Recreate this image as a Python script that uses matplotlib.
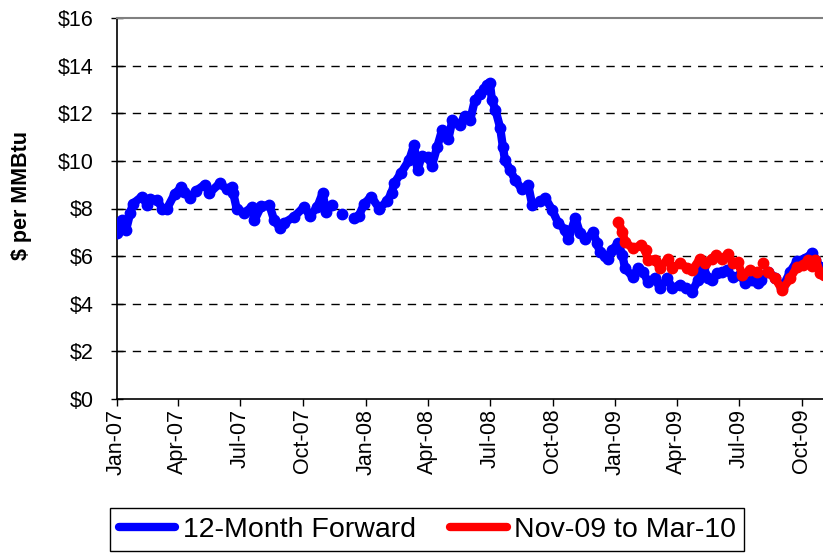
import numpy as np
import pandas as pd
import matplotlib
matplotlib.use("Agg")
import matplotlib.pyplot as plt
import matplotlib.dates as mdates

plt.rcParams["font.family"] = ["Liberation Sans", "DejaVu Sans"]

nan = np.nan

# 12-month forward strip
fwd_dates = [
    "2007-01-01", "2007-01-09", "2007-01-15", "2007-01-21", "2007-01-25", "2007-02-07",
    "2007-02-15", "2007-02-19", "2007-03-02", "2007-03-09", "2007-03-16", "2007-03-27",
    "2007-04-06", "2007-04-10", "2007-04-18", "2007-04-28", "2007-05-10", "2007-05-17",
    "2007-06-01", "2007-06-12", "2007-06-19", "2007-06-21", "2007-06-26", "2007-07-07",
    "2007-07-18", "2007-07-22", "2007-08-01", "2007-08-13", "2007-08-20", "2007-08-28",
    "2007-09-04", "2007-09-18", "2007-10-03", "2007-10-11", "2007-10-22", "2007-10-30",
    "2007-11-04", "2007-11-13", "2007-11-20", "2007-11-28", "2007-12-06", "2007-12-15",
    "2007-12-22", "2007-12-30",
    "2008-01-09", "2008-01-21", "2008-02-01", "2008-02-08", "2008-02-12", "2008-02-22",
    "2008-03-05", "2008-03-12", "2008-03-17", "2008-03-23", "2008-04-01", "2008-04-07",
    "2008-04-15", "2008-04-22", "2008-05-01", "2008-05-07", "2008-05-18", "2008-05-25",
    "2008-06-02", "2008-06-09", "2008-06-16", "2008-06-23", "2008-06-27", "2008-07-01",
    "2008-07-04", "2008-07-09", "2008-07-16", "2008-07-20", "2008-07-23", "2008-07-31",
    "2008-08-07", "2008-08-17", "2008-08-26", "2008-09-01", "2008-09-13", "2008-09-20",
    "2008-09-30", "2008-10-09", "2008-10-19", "2008-10-24", "2008-11-03", "2008-11-10",
    "2008-11-18", "2008-11-29", "2008-12-05", "2008-12-09", "2008-12-17", "2008-12-21",
    "2008-12-27",
    "2009-01-05", "2009-01-11", "2009-01-15", "2009-01-26", "2009-02-03", "2009-02-11",
    "2009-02-17", "2009-02-28", "2009-03-07", "2009-03-18", "2009-03-25", "2009-04-06",
    "2009-04-15", "2009-04-23", "2009-05-02", "2009-05-09", "2009-05-17", "2009-05-23",
    "2009-05-30", "2009-06-06", "2009-06-14", "2009-06-22", "2009-07-03", "2009-07-10",
    "2009-07-20", "2009-07-29", "2009-08-02", "2009-08-07", "2009-08-12", "2009-08-23",
    "2009-09-02", "2009-09-14", "2009-09-24", "2009-10-06", "2009-10-16", "2009-10-21",
    "2009-10-28", "2009-11-02",
]
fwd_values = [
    6.97, 7.5, 7.1, 7.8, 8.2, 8.5,
    8.15, 8.4, 8.35, 8.0, 8.0, 8.6,
    8.9, 8.7, 8.45, 8.75, 9.0, 8.65,
    9.05, 8.8, 8.9, 8.65, 8.0, 7.8,
    8.07, 7.5, 8.1, 8.15, 7.5, 7.2,
    7.4, 7.65, 8.07, 7.7, 8.05, 8.65,
    7.85, 8.15, nan, 7.77, nan, 7.6,
    7.7, 8.2,
    8.5, 8.0, 8.3, 8.65, 9.07, 9.5,
    10.05, 10.67, 9.6, 10.2, 10.15, 9.8,
    10.6, 11.3, 10.9, 11.7, 11.5, 11.9,
    11.7, 12.55, 12.8, 13.0, 13.2, 13.27,
    12.55, 12.15, 11.4, 10.6, 10.05, 9.6,
    9.2, 8.8, 9.0, 8.15, 8.3, 8.45,
    7.95, 7.4, 7.1, 6.7, 7.6, 6.97,
    6.7, 7.0, 6.55, 6.17, 6.0, 5.9,
    6.25,
    6.55, 6.05, 5.5, 5.13, 5.5, 5.35,
    4.93, 5.07, 4.66, 5.07, 4.66, 4.8,
    4.66, 4.5, 5.0, 5.55, 5.07, 5.0,
    5.3, 5.35, 5.4, 5.13, 5.2, 4.87,
    5.0, 4.87, 5.0, nan, 5.35, 5.1,
    4.65, 5.35, 5.8, 5.9, 6.12, 5.85,
    5.55, 5.5,
]

# Nov-09 to Mar-10 contract strip
win_dates = [
    "2009-01-05", "2009-01-11", "2009-01-15", "2009-01-26", "2009-02-07", "2009-02-14",
    "2009-02-17", "2009-02-28", "2009-03-07", "2009-03-19", "2009-03-25", "2009-04-06",
    "2009-04-16", "2009-04-23", "2009-05-05", "2009-05-12", "2009-05-22", "2009-05-28",
    "2009-06-06", "2009-06-15", "2009-06-22", "2009-06-29", "2009-07-06", "2009-07-17",
    "2009-07-27", "2009-07-31", "2009-08-05", "2009-08-09", "2009-08-12", "2009-08-23",
    "2009-09-02", "2009-09-14", "2009-09-24", "2009-10-03", "2009-10-10", "2009-10-16",
    "2009-10-21", "2009-10-28", "2009-11-02",
]
win_values = [
    7.45, 7.03, 6.6, 6.33, 6.45, 6.25,
    5.85, 5.85, 5.5, 5.9, 5.5, 5.7,
    5.5, 5.4, 5.9, 5.7, 5.9, 6.05,
    5.9, 6.1, 5.7, 5.75, 5.2, 5.4,
    5.35, nan, 5.7, nan, 5.35, 5.07,
    4.58, 5.07, 5.55, 5.62, 5.85, 5.6,
    5.85, 5.3, 5.2,
]

y_ticks = [0, 2, 4, 6, 8, 10, 12, 14, 16]
x_ticks = pd.date_range("2007-01-01", "2009-10-01", freq="3MS")

fig = plt.figure(figsize=(8.23, 5.55), dpi=100)
ax = fig.add_axes([116.5 / 823, 1 - 399 / 555, 1 - 116.5 / 823, (399 - 18) / 555])

style = dict(lw=6, marker="o", ms=7.5, solid_capstyle="round", solid_joinstyle="round")
ax.plot(pd.to_datetime(fwd_dates), fwd_values, color="#0000ff",
        label="12-Month Forward", zorder=3, **style)
ax.plot(pd.to_datetime(win_dates), win_values, color="#ff0000",
        label="Nov-09 to Mar-10", zorder=4, **style)

ax.set_ylim(0, 16)
ax.set_xlim(pd.Timestamp("2007-01-01"), pd.Timestamp("2009-11-01"))
ax.set_yticks(y_ticks)
ax.set_yticklabels([f"${v}" for v in y_ticks])
ax.set_xticks(x_ticks)
ax.xaxis.set_major_formatter(mdates.DateFormatter("%b-%y"))
for g in y_ticks[1:-1]:
    ax.axhline(g, color="black", lw=1, ls=(0, (6, 5)), zorder=1)

ax.spines["right"].set_visible(False)
ax.spines["top"].set_color("#808080")
ax.spines["top"].set_linewidth(1.5)
ax.spines["left"].set_linewidth(1.2)
ax.spines["bottom"].set_linewidth(1.2)
ax.tick_params(axis="y", direction="inout", length=9, width=1, pad=12, labelsize=15.5)
ax.tick_params(axis="x", direction="out", length=5, width=1, pad=2, labelsize=15.5,
               labelrotation=90)

fig.text(22 / 823, 1 - 196 / 555, "$ per MMBtu", rotation=90, fontsize=15.5,
         fontweight="bold", ha="center", va="center")

leg = fig.legend(loc="upper left", bbox_to_anchor=(110 / 823, 1 - 508 / 555), ncol=2,
                 fontsize=20.5, frameon=True, fancybox=False, edgecolor="black",
                 framealpha=1, handlelength=2.0, handletextpad=0.25, columnspacing=1.2,
                 borderpad=0.3, borderaxespad=0)
for h in leg.get_lines():
    h.set_marker("None")
    h.set_linewidth(6)

fig.savefig("out.png", dpi=100, facecolor="white")
